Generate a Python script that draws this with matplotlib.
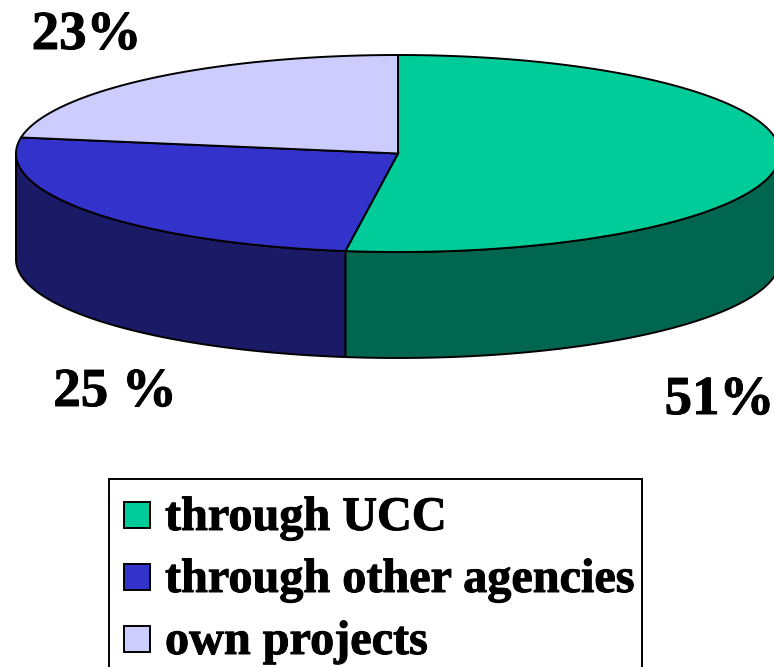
import numpy as np
import matplotlib
matplotlib.use("Agg")
import matplotlib.pyplot as plt
import matplotlib.patheffects as pe
from matplotlib.patches import Polygon, Rectangle

categories = ["through UCC", "through other agencies", "own projects"]
shares = [52.2, 25.4, 22.4]
labels = ["51%", "25 %", "23%"]
top_colors = ["#00CC99", "#3333CC", "#CCCCFF"]
side_colors = ["#006650", "#1A1A66"]

W, H = 774, 667
fig = plt.figure(figsize=(W/100, H/100), dpi=100)
ax = fig.add_axes([0, 0, 1, 1])
ax.set_xlim(0, W); ax.set_ylim(H, 0); ax.axis("off")
plt.rcParams["font.family"] = ["Liberation Serif"]

cx, cy, rx, ry, depth = 398, 153.5, 382, 98.5, 106
bold = [pe.withStroke(linewidth=0.7, foreground="black")]

def pt(t, dy=0):
    return cx + rx*np.sin(t), cy - ry*np.cos(t) + dy

edges = np.cumsum([0] + shares) / sum(shares) * 2*np.pi

# side walls (front half of the ellipse only)
for i in range(2):
    a = max(edges[i], np.pi/2)
    b = min(edges[i+1], 3*np.pi/2)
    t = np.linspace(a, b, 200)
    x, y = pt(t)
    x2, y2 = pt(t[::-1], depth)
    ax.add_patch(Polygon(np.r_[np.c_[x, y], np.c_[x2, y2]], closed=True,
                         fc=side_colors[i], ec="black", lw=1.4, zorder=2))

# top wedges
for i in range(3):
    t = np.linspace(edges[i], edges[i+1], 300)
    x, y = pt(t)
    ax.add_patch(Polygon(np.r_[[[cx, cy]], np.c_[x, y]], closed=True,
                         fc=top_colors[i], ec="black", lw=1.4, zorder=3))

# value labels
for s, (lx, ly) in zip(labels, [(719.5, 414), (115, 406), (86.5, 49)]):
    ax.text(lx, ly, s, fontsize=39.5, fontweight="bold", family="Liberation Serif",
            ha="center", va="baseline", color="black", path_effects=bold)

# legend
ax.add_patch(Rectangle((109, 479), 533, 200, fc="white", ec="black", lw=1.4, zorder=1))
for i, (c, ly) in enumerate(zip(categories, [514.5, 576.5, 638.5])):
    ax.add_patch(Rectangle((124, ly-13), 26, 26, fc=top_colors[i], ec="black", lw=1.4, zorder=3))
    ax.text(165, ly+15.5, c, fontsize=34.7, fontweight="bold", family="Liberation Serif",
            ha="left", va="baseline", color="black", path_effects=bold)

fig.savefig("out.png", dpi=100)
